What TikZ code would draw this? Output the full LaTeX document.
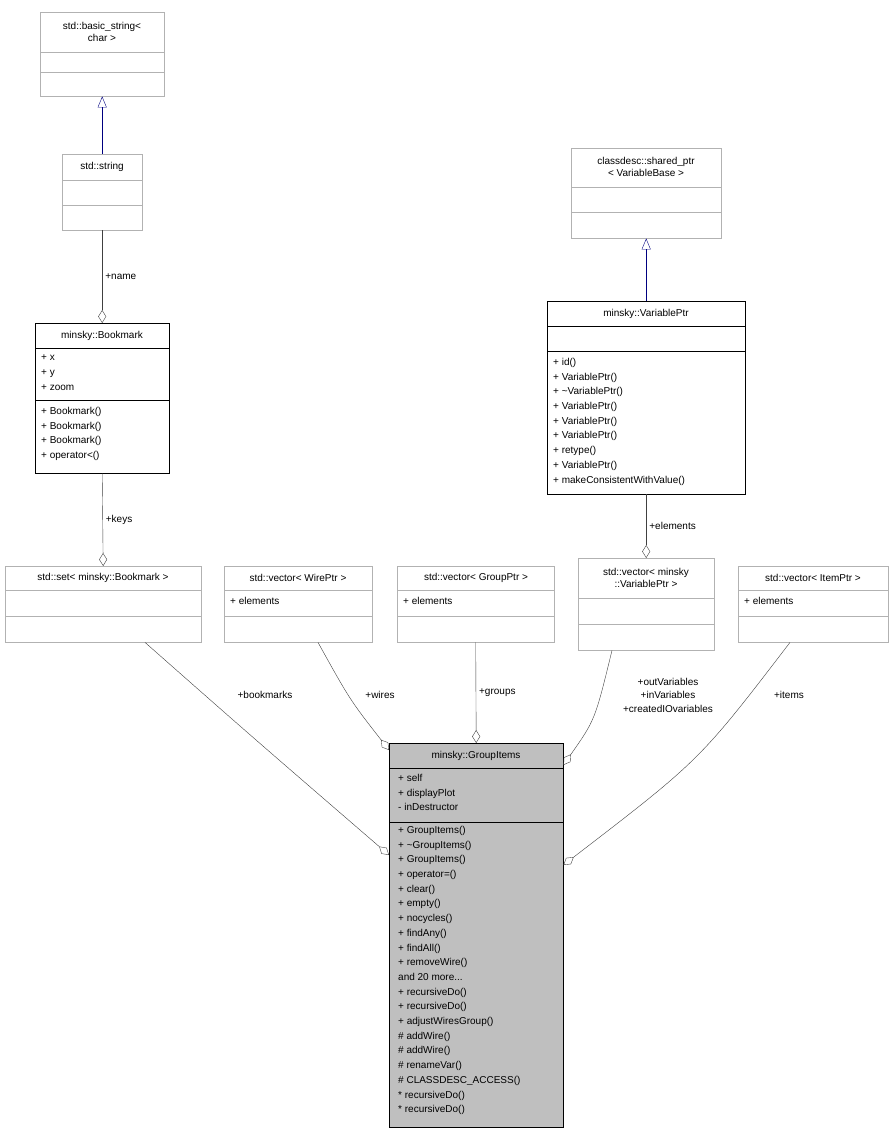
\documentclass[tikz,border=0pt]{standalone}
\usepackage{fontspec}
\setmainfont{Liberation Sans}
\usetikzlibrary{arrows.meta,positioning,calc}
\tikzset{x=1pt, y=-1pt}
\tikzset{cls/.style={draw=black!30,rectangle,inner sep=0pt,anchor=north west}}
\tikzset{cur/.style={cls,draw=black}}
\tikzset{ttl/.style={inner sep=0pt,align=center,font=\fontsize{10}{12.5}\selectfont}}
\tikzset{mem/.style={inner sep=0pt,anchor=north west,align=left,font=\fontsize{10}{14.7}\selectfont}}
\tikzset{lbl/.style={inner sep=0pt,font=\fontsize{10}{12.5}\selectfont}}
\tikzset{agg/.style={draw=black!75,-{Diamond[open,length=13pt,width=8pt]}}}
\tikzset{inh/.style={draw=blue!50!black,{Triangle[open,length=11pt,width=9pt]}-}}
\begin{document}
\begin{tikzpicture}
\useasboundingbox (0,0) rectangle (893,1133);
% classes
\node[cls,minimum width=124,minimum height=84] (bstr) at (40,12) {};
\node[ttl] at (102,32) {std::basic\_string\textless\\char \textgreater};
\draw[black!30] (40,52) -- (164,52) (40,72) -- (164,72);
\node[cls,minimum width=80,minimum height=76] (str) at (62,154) {};
\node[ttl] at (102,167) {std::string};
\draw[black!30] (62,180) -- (142,180) (62,205) -- (142,205);
\node[cur,minimum width=134,minimum height=150] (bmk) at (35,323) {};
\node[ttl] at (102,336) {minsky::Bookmark};
\draw (35,348) -- (169,348) (35,400) -- (169,400);
\node[mem] at (41,355) {+ x\\+ y\\+ zoom};
\node[mem] at (41,407) {+ Bookmark()\\+ Bookmark()\\+ Bookmark()\\+ operator\textless()};
\node[cls,minimum width=150,minimum height=90] (sptr) at (571,148) {};
\node[ttl] at (646,167) {classdesc::shared\_ptr\\\textless{} VariableBase \textgreater};
\draw[black!30] (571,187) -- (721,187) (571,212) -- (721,212);
\node[cur,minimum width=198,minimum height=193] (vptr) at (547,301) {};
\node[ttl] at (646,314) {minsky::VariablePtr};
\draw (547,326) -- (745,326) (547,351) -- (745,351);
\node[mem] at (553,358) {+ id()\\+ VariablePtr()\\+ \textasciitilde VariablePtr()\\+ VariablePtr()\\+ VariablePtr()\\+ VariablePtr()\\+ retype()\\+ VariablePtr()\\+ makeConsistentWithValue()};
\node[cls,minimum width=196,minimum height=76] (bset) at (5,566) {};
\node[ttl] at (103,578) {std::set\textless{} minsky::Bookmark \textgreater};
\draw[black!30] (5,590) -- (201,590) (5,616) -- (201,616);
\node[cls,minimum width=148,minimum height=76] (wvec) at (224,566) {};
\node[ttl] at (298,578) {std::vector\textless{} WirePtr \textgreater};
\draw[black!30] (224,590) -- (372,590) (224,616) -- (372,616);
\node[mem] at (230,597) {+ elements};
\node[cls,minimum width=157,minimum height=76] (gvec) at (397,566) {};
\node[ttl] at (476,578) {std::vector\textless{} GroupPtr \textgreater};
\draw[black!30] (397,590) -- (554,590) (397,616) -- (554,616);
\node[mem] at (403,597) {+ elements};
\node[cls,minimum width=136,minimum height=92] (vvec) at (578,558) {};
\node[ttl] at (646,578) {std::vector\textless{} minsky\\::VariablePtr \textgreater};
\draw[black!30] (578,598) -- (714,598) (578,624) -- (714,624);
\node[cls,minimum width=150,minimum height=76] (ivec) at (738,566) {};
\node[ttl] at (813,578) {std::vector\textless{} ItemPtr \textgreater};
\draw[black!30] (738,590) -- (888,590) (738,616) -- (888,616);
\node[mem] at (744,597) {+ elements};
\node[cur,fill=black!25,minimum width=174,minimum height=384] (grp) at (389,743) {};
\node[ttl] at (476,756) {minsky::GroupItems};
\draw (389,768) -- (563,768) (389,822) -- (563,822);
\node[mem] at (398,774) {+ self\\+ display\rlap{P}\hphantom{P}lot\\- inDestructor};
\node[mem] at (398,826) {+ GroupItems()\\+ \textasciitilde GroupItems()\\+ GroupItems()\\+ operator=()\\+ clear()\\+ empty()\\+ nocycles()\\+ findAny()\\+ findAll()\\+ removeWire()\\and 20 more...\\+ recursiveDo()\\+ recursiveDo()\\+ adjustWiresGroup()\\\# addWire()\\\# addWire()\\\# renameVar()\\\# CLASSDESC\_ACCESS()\\* recursiveDo()\\* recursiveDo()};
% relations
\draw[inh] (bstr.south) -- (str.north);
\draw[inh] (sptr.south) -- (vptr.north);
\draw[agg] (str.south) -- node[lbl,right=3pt] {+name} (bmk.north);
\draw[agg] (bmk.south) -- node[lbl,right=3pt] {+keys} (bset.north);
\draw[agg] (vptr.south) -- node[lbl,right=3pt] {+elements} (vvec.north);
\draw[agg] (gvec.south) -- node[lbl,right=3pt] {+groups} (grp.north);
\draw[agg] ($(bset.south west)+(140,0)$) .. controls (250,735) .. ($(grp.north west)+(0,112)$);
\node[lbl] at (265,695) {+bookmarks};
\draw[agg] ($(wvec.south west)+(94,0)$) .. controls (350,700) .. ($(grp.north west)+(0,7)$);
\node[lbl] at (380,695) {+wires};
\draw[agg] ($(vvec.south west)+(34,0)$) .. controls (595,720) .. ($(grp.north east)+(0,22)$);
\node[lbl,align=center,font=\fontsize{10}{13.5}\selectfont] at (668,695) {+outVariables\\+inVariables\\+createdIOvariables};
\draw[agg] ($(ivec.south west)+(52,0)$) .. controls (700,760) .. ($(grp.north east)+(0,122)$);
\node[lbl] at (789,695) {+items};
\end{tikzpicture}
\end{document}
